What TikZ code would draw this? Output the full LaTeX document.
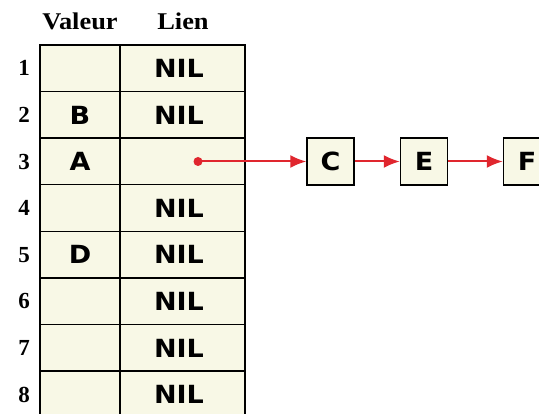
\documentclass[tikz,border=0pt]{standalone}
\usepackage{fontspec}
\setmainfont{Liberation Serif}
\newfontfamily\cellfont[FakeStretch=1.08]{DejaVu Sans}
\usetikzlibrary{arrows.meta}
\definecolor{cream}{HTML}{F8F8E6}
\definecolor{arrowred}{HTML}{E0262E}
\tikzset{
  cell/.style={draw=black, line width=1.4pt, fill=cream, inner sep=0pt, anchor=center,
    font=\cellfont\bfseries\fontsize{25}{25}\selectfont},
  vcell/.style={cell, minimum width=80pt, minimum height=46.6pt},
  lcell/.style={cell, minimum width=125pt, minimum height=46.6pt},
  lbox/.style={cell, minimum width=47pt, minimum height=47pt},
  rowlab/.style={font=\bfseries\fontsize{23}{23}\selectfont, inner sep=0pt},
  head/.style={font=\bfseries\fontsize{24}{24}\selectfont, inner sep=0pt},
  link/.style={draw=arrowred, line width=2pt, -{Latex[length=16pt,width=13pt]}},
}
\begin{document}
\begin{tikzpicture}[x=1pt,y=-1pt]
\useasboundingbox[fill=white] (0,0) rectangle (539,414);
\node[head] (hv) at (80,21) {\scalebox{1.1}[1]{Valeur}};
\node[head] (hl) at (183,21) {\scalebox{1.1}[1]{Lien}};
\foreach \i/\v/\l in {1//NIL,2/B/NIL,3/A/,4//NIL,5/D/NIL,6//NIL,7//NIL,8//NIL}{
  \pgfmathsetmacro{\yy}{45+46.6*(\i-0.5)}
  \node[vcell] (v\i) at (80,\yy) {\v};
  \node[lcell] (l\i) at (182.5,\yy) {\hspace*{-7pt}\l};
  \node[rowlab] (r\i) at (24,\yy) {\i};
}
\node[lbox] (c) at (330.5,161.5) {C};
\node[lbox] (e) at (424,161.5) {E};
\node[lbox] (f) at (527,161.5) {F};
\node[circle, fill=arrowred, inner sep=0pt, minimum size=9pt] (dot) at (198,161.5) {};
\draw[link] (dot.center) -- (c.west);
\draw[link] (c.east) -- (e.west);
\draw[link] (e.east) -- (f.west);
\end{tikzpicture}
\end{document}
